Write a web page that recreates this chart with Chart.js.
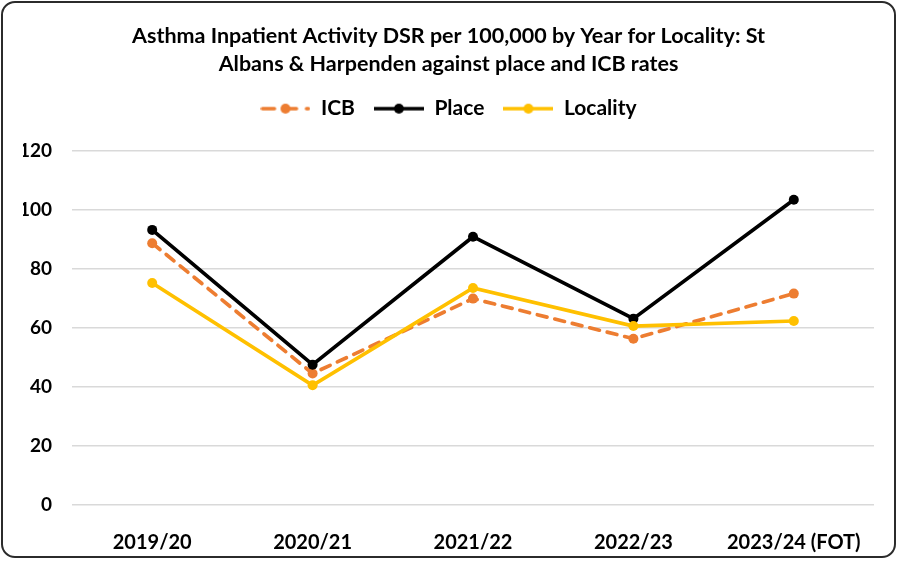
<!DOCTYPE html>
<html>
<head>
<meta charset="utf-8">
<script src="https://cdn.jsdelivr.net/npm/chart.js@4/dist/chart.umd.min.js"></script>
<style>
    body { margin: 0; background: #fff; }
    #frame { position: absolute; left: 1px; top: 1px; width: 891px; height: 553px; border: 2px solid #2b2b2b; border-radius: 14px; }
    #chart { position: absolute; left: 0; top: 0; }
</style>
</head>
<body>
<div id="frame"></div>
<canvas id="chart" width="897" height="563"></canvas>
<script>
const years = ['2019/20', '2020/21', '2021/22', '2022/23', '2023/24 (FOT)'];
const icb = [88.8, 44.6, 70.0, 56.4, 71.7];
const place = [93.3, 47.6, 91.0, 63.2, 103.5];
const locality = [75.3, 40.6, 73.6, 60.7, 62.4];
const yTicks = [0, 20, 40, 60, 80, 100, 120];

const FONT = 'Lato, "Open Sans", sans-serif';

// little line + dot swatch for the legend
function swatch(color, dashed) {
    const c = document.createElement('canvas');
    c.width = 50; c.height = 12;
    const g = c.getContext('2d');
    g.strokeStyle = color;
    g.fillStyle = color;
    g.lineWidth = 3.5;
    g.lineCap = dashed ? 'round' : 'butt';
    if (dashed) g.setLineDash([12, 10]);
    g.beginPath();
    g.moveTo(dashed ? 2 : 0, 6);
    g.lineTo(dashed ? 48 : 50, 6);
    g.stroke();
    g.beginPath();
    g.arc(25, 6, 5, 0, Math.PI * 2);
    g.fill();
    return c;
}

const swatches = [swatch('#ED7D31', true), swatch('#000000', false), swatch('#FFC000', false)];

// extra room under the legend
const legendGap = {
    id: 'legendGap',
    afterInit(chart) {
        const fit = chart.legend.fit;
        chart.legend.fit = function () {
            fit.call(this);
            this.height += 22;
        };
    }
};

new Chart(document.getElementById('chart').getContext('2d'), {
    type: 'line',
    data: {
        labels: years,
        datasets: [
            { label: 'ICB', data: icb, borderColor: '#ED7D31', backgroundColor: '#ED7D31', borderDash: [10, 8], borderCapStyle: 'round', order: 3 },
            { label: 'Place', data: place, borderColor: '#000000', backgroundColor: '#000000', order: 2 },
            { label: 'Locality', data: locality, borderColor: '#FFC000', backgroundColor: '#FFC000', order: 1 }
        ]
    },
    plugins: [legendGap],
    options: {
        responsive: false,
        animation: false,
        layout: { padding: { left: 23, right: 23, top: 0, bottom: 0 } },
        elements: {
            line: { borderWidth: 3.7, tension: 0 },
            point: { radius: 5, hoverRadius: 5, borderWidth: 0 }
        },
        scales: {
            x: {
                offset: true,
                grid: { display: false },
                border: { display: false },
                ticks: { color: '#000', font: { family: FONT, size: 20, weight: 'bold' }, padding: 18 },
                afterFit: s => { s.height = 58; }
            },
            y: {
                min: 0,
                max: 120,
                afterBuildTicks: s => { s.ticks = yTicks.map(v => ({ value: v })); },
                grid: { color: '#d9d9d9', lineWidth: 1.5, drawTicks: false },
                border: { display: false },
                ticks: { color: '#000', font: { family: FONT, size: 19, weight: 'bold' }, padding: 20 },
                afterFit: s => { s.width = 49; }
            }
        },
        plugins: {
            title: {
                display: true,
                text: ['Asthma Inpatient Activity DSR per 100,000 by Year for Locality: St', 'Albans & Harpenden against place and ICB rates'],
                color: '#000',
                font: { family: FONT, size: 21.5, weight: 'bold', lineHeight: 1.26 },
                padding: { top: 23, bottom: 2 }
            },
            legend: {
                position: 'top',
                labels: {
                    usePointStyle: true,
                    pointStyleWidth: 50,
                    padding: 19,
                    color: '#000',
                    font: { family: FONT, size: 21, weight: 'bold' },
                    generateLabels: chart => chart.data.datasets.map((ds, i) => ({
                        text: ds.label,
                        pointStyle: swatches[i],
                        fontColor: '#000',
                        hidden: false,
                        datasetIndex: i
                    }))
                }
            },
            tooltip: { enabled: false }
        }
    }
});
</script>
</body>
</html>
